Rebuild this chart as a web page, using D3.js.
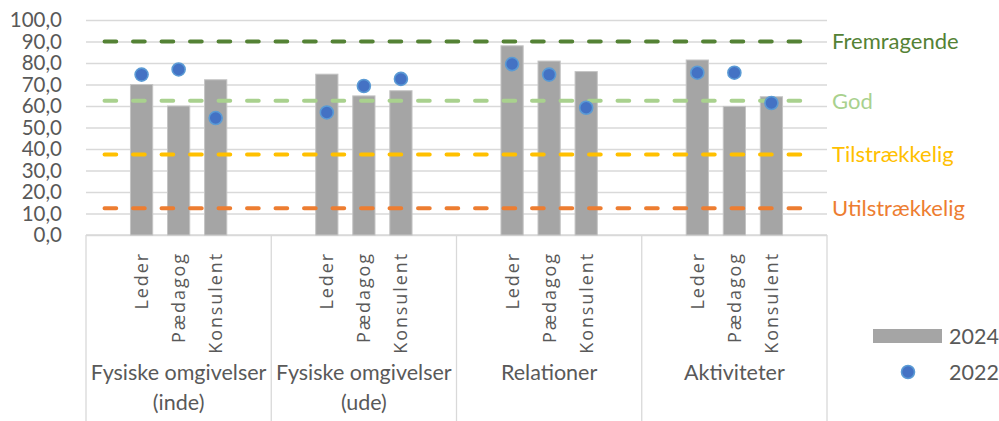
<!DOCTYPE html>
<html>
<head>
<meta charset="utf-8">
<script src="https://cdn.jsdelivr.net/npm/d3@7"></script>
<style>
  body { margin: 0; background: #fff; }
  text { font-family: Lato, "Noto Sans", sans-serif; }
</style>
</head>
<body>
<div id="chart"></div>
<script>
// data
const groups = ["Fysiske omgivelser (inde)", "Fysiske omgivelser (ude)", "Relationer", "Aktiviteter"];
const groupLines = [["Fysiske omgivelser", "(inde)"], ["Fysiske omgivelser", "(ude)"], ["Relationer"], ["Aktiviteter"]];
const roles = ["Leder", "Pædagog", "Konsulent"];
const values2024 = [70, 60, 72.2, 74.8, 64.7, 67.1, 88, 80.9, 76, 81.4, 59.8, 64.3];
const values2022 = [74.6, 77, 54.4, 57, 69.3, 72.6, 79.5, 74.6, 59.2, 75.5, 75.5, 61.4];
const levelNames = ["Fremragende", "God", "Tilstrækkelig", "Utilstrækkelig"];
const levelValues = [90, 62.5, 37.5, 12.5];
const levelColors = ["#548235", "#A9D18E", "#FFC000", "#ED7D31"];
const yTicks = [0, 10, 20, 30, 40, 50, 60, 70, 80, 90, 100];

const svgWidth = 999;
const svgHeight = 421;
const plot = { left: 86, right: 827, top: 20, bottom: 235 };

const svg = d3.select("#chart")
  .append("svg")
  .attr("width", svgWidth)
  .attr("height", svgHeight);

// scales
const xGroup = d3.scaleBand()
  .domain(groups)
  .range([plot.left, plot.right])
  .padding(0);

// 5 slots per group, first and last are empty
const xSlot = d3.scaleBand()
  .domain(d3.range(5))
  .range([0, xGroup.bandwidth()])
  .padding(0);

const y = d3.scaleLinear()
  .domain([0, 100])
  .range([plot.bottom, plot.top]);

const fmt = v => d3.format(".1f")(v).replace(".", ",");

// flat rows for the marks
const rows = [];
groups.forEach((g, gi) => {
  roles.forEach((r, ri) => {
    rows.push({
      group: g,
      role: r,
      slot: ri + 1,
      v2024: values2024[gi * roles.length + ri],
      v2022: values2022[gi * roles.length + ri]
    });
  });
});
const cx = d => xGroup(d.group) + xSlot(d.slot) + xSlot.bandwidth() / 2;

// gridlines + y labels
const yAxis = d3.axisLeft(y)
  .tickValues(yTicks)
  .tickSize(-(plot.right - plot.left))
  .tickFormat(fmt);

const yG = svg.append("g")
  .attr("transform", `translate(${plot.left},0)`)
  .call(yAxis);
yG.select(".domain").remove();
yG.selectAll(".tick line").attr("stroke", "#D9D9D9").attr("stroke-width", 1.3);
yG.selectAll(".tick text")
  .attr("x", -24)
  .attr("fill", "#595959")
  .style("font-size", "20.5px");

// x axis: baseline and group separators
svg.append("line")
  .attr("x1", plot.left).attr("x2", plot.right)
  .attr("y1", plot.bottom).attr("y2", plot.bottom)
  .attr("stroke", "#D9D9D9").attr("stroke-width", 1.3);

svg.selectAll("line.sep")
  .data(groups.concat([null]))
  .enter()
  .append("line")
  .attr("class", "sep")
  .attr("x1", d => d === null ? plot.right : xGroup(d))
  .attr("x2", d => d === null ? plot.right : xGroup(d))
  .attr("y1", plot.bottom)
  .attr("y2", svgHeight)
  .attr("stroke", "#D9D9D9").attr("stroke-width", 1.3);

// bars 2024
const barW = xSlot.bandwidth() * 0.6;
svg.selectAll("rect.bar")
  .data(rows)
  .enter()
  .append("rect")
  .attr("class", "bar")
  .attr("x", d => cx(d) - barW / 2)
  .attr("y", d => y(d.v2024))
  .attr("width", barW)
  .attr("height", d => y(0) - y(d.v2024))
  .attr("fill", "#A5A5A5")
  .attr("stroke", "#C4C4C4")
  .attr("stroke-width", 1);

// dashed level lines across all slots
const allSlots = [];
groups.forEach(g => d3.range(5).forEach(s => allSlots.push(xGroup(g) + xSlot(s) + xSlot.bandwidth() / 2)));
const xMin = d3.min(allSlots), xMax = d3.max(allSlots);

svg.selectAll("line.level")
  .data(levelValues)
  .enter()
  .append("line")
  .attr("class", "level")
  .attr("x1", xMin).attr("x2", xMax)
  .attr("y1", d => y(d)).attr("y2", d => y(d))
  .attr("stroke", (d, i) => levelColors[i])
  .attr("stroke-width", 4)
  .attr("stroke-linecap", "round")
  .attr("stroke-dasharray", "11.7 16.8");

svg.selectAll("text.level")
  .data(levelValues)
  .enter()
  .append("text")
  .attr("class", "level")
  .attr("x", 832)
  .attr("y", d => y(d))
  .attr("dy", "0.36em")
  .attr("fill", (d, i) => levelColors[i])
  .style("font-size", "22px")
  .text((d, i) => levelNames[i]);

// dots 2022
svg.selectAll("circle.dot")
  .data(rows)
  .enter()
  .append("circle")
  .attr("class", "dot")
  .attr("cx", cx)
  .attr("cy", d => y(d.v2022))
  .attr("r", 6.5)
  .attr("fill", "#4472C4")
  .attr("stroke", "#5B9BD5")
  .attr("stroke-width", 1.6);

// role labels, rotated
svg.selectAll("text.role")
  .data(rows)
  .enter()
  .append("text")
  .attr("class", "role")
  .attr("transform", d => `translate(${cx(d)},252) rotate(-90)`)
  .attr("text-anchor", "end")
  .attr("dy", "0.36em")
  .attr("fill", "#595959")
  .style("font-family", "'Open Sans', sans-serif")
  .style("font-size", "18px")
  .style("letter-spacing", "1.9px")
  .text(d => d.role);

// group labels
const gLab = svg.selectAll("text.group")
  .data(groups)
  .enter()
  .append("text")
  .attr("class", "group")
  .attr("text-anchor", "middle")
  .attr("fill", "#595959")
  .style("font-size", "21.5px");

gLab.selectAll("tspan")
  .data((d, i) => groupLines[i].map(t => ({ g: d, t: t })))
  .enter()
  .append("tspan")
  .attr("x", d => xGroup(d.g) + xGroup.bandwidth() / 2)
  .attr("y", (d, i) => 380 + i * 29.5)
  .text(d => d.t);

// legend
const legend = svg.append("g");
legend.append("rect")
  .attr("x", 873).attr("y", 329)
  .attr("width", 69).attr("height", 14)
  .attr("fill", "#A5A5A5");
legend.append("text")
  .attr("x", 949).attr("y", 336).attr("dy", "0.36em")
  .attr("fill", "#595959").style("font-size", "21.5px")
  .text("2024");
legend.append("circle")
  .attr("cx", 908).attr("cy", 372).attr("r", 6.5)
  .attr("fill", "#4472C4").attr("stroke", "#5B9BD5").attr("stroke-width", 1.6);
legend.append("text")
  .attr("x", 949).attr("y", 372).attr("dy", "0.36em")
  .attr("fill", "#595959").style("font-size", "21.5px")
  .text("2022");
</script>
</body>
</html>
